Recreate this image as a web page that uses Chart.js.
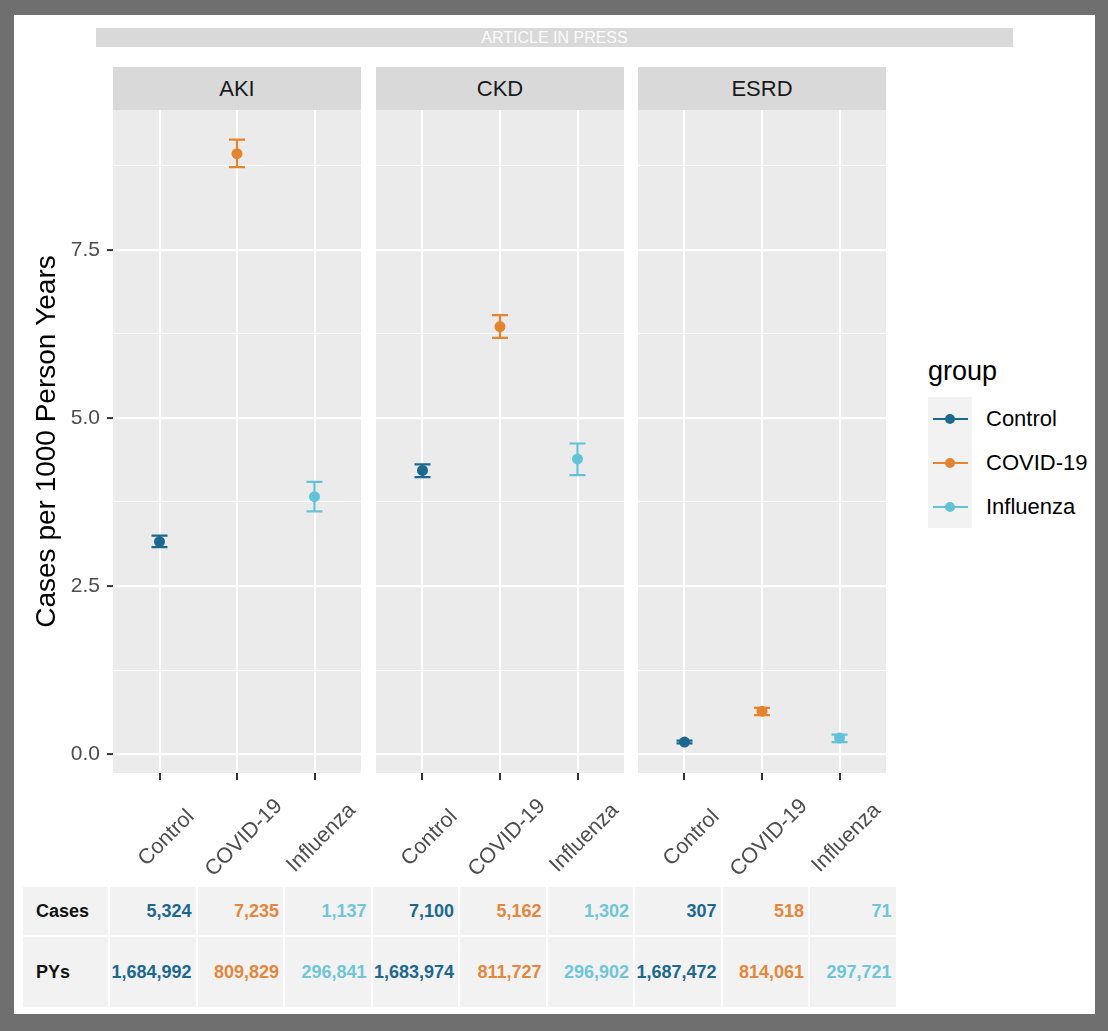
<!DOCTYPE html>
<html>
<head>
<meta charset="utf-8">
<script src="https://cdn.jsdelivr.net/npm/chart.js@4.4.0/dist/chart.umd.min.js"></script>
<style>
  html, body { margin:0; padding:0; background:#6f6f6f; }
  #page { position:relative; width:1108px; height:1031px; background:#6f6f6f; overflow:hidden;
          font-family:"Liberation Sans", Arial, sans-serif; }
  #sheet { position:absolute; left:14px; top:15px; width:1081px; height:999px; background:#ffffff; }
  #press { position:absolute; left:96px; top:28px; width:917px; height:19px; background:#d9d9d9;
           color:#fbfbfb; font-size:16px; line-height:19px; text-align:center; }
  .strip { position:absolute; top:67px; height:43px; width:248px; background:#d9d9d9; color:#1a1a1a;
           font-size:22px; line-height:43px; text-align:center; }
  canvas { position:absolute; top:110px; }
  #legendTitle { position:absolute; left:928px; top:355px; font-size:27px; color:#000; line-height:32px; }
  #legendKeys { position:absolute; left:928px; top:397px; width:44px; height:131px; background:#f2f2f2; }
  .lkLine { position:absolute; left:933px; width:35px; height:2px; }
  .lkDot { position:absolute; left:945px; width:10px; height:10px; border-radius:50%; }
  .lkText { position:absolute; left:986px; font-size:22px; line-height:26px; color:#000; }
  #table { position:absolute; left:23px; top:887px; display:grid;
           grid-template-columns: 85px repeat(9, 85.5px); grid-template-rows: 48px 70px; gap:2px; }
  .cell { background:#f2f2f2; font-weight:bold; font-size:18px; display:flex; align-items:center;
          justify-content:flex-end; padding-right:4px; }
  .cell.head { justify-content:flex-start; padding-left:13px; padding-right:0; color:#111; }
</style>
</head>
<body>
<div id="page">
  <div id="sheet"></div>
  <div id="press">ARTICLE IN PRESS</div>
  <div id="strips"></div>
  <canvas id="c0" width="361" height="775" style="left:0px;width:361px;height:775px"></canvas>
  <canvas id="c1" width="248" height="775" style="left:376px;width:248px;height:775px"></canvas>
  <canvas id="c2" width="248" height="775" style="left:638px;width:248px;height:775px"></canvas>
  <div id="legendTitle">group</div>
  <div id="legendKeys"></div>
  <div id="legendItems"></div>
  <div id="table"></div>
</div>
<script>
// ---------------- data ----------------
const facets = ['AKI', 'CKD', 'ESRD'];
const groups = ['Control', 'COVID-19', 'Influenza'];
const groupColors = ['#1b6890', '#e6832f', '#62c3d8'];
const tableColors = ['#1c6891', '#e4873c', '#70c6d9'];

const akiRate  = [3.16, 8.93, 3.83];
const akiLow   = [3.08, 8.73, 3.61];
const akiHigh  = [3.25, 9.14, 4.05];
const ckdRate  = [4.22, 6.36, 4.39];
const ckdLow   = [4.12, 6.19, 4.15];
const ckdHigh  = [4.31, 6.53, 4.62];
const esrdRate = [0.18, 0.64, 0.24];
const esrdLow  = [0.16, 0.58, 0.18];
const esrdHigh = [0.20, 0.69, 0.29];

const yMajorTicks = [0, 2.5, 5, 7.5];
const yMinorTicks = [1.25, 3.75, 6.25, 8.75];
const yTitle = 'Cases per 1000 Person Years';
const legendTitle = 'group';

const tableRowLabels = ['Cases', 'PYs'];
const casesRow = ['5,324', '7,235', '1,137', '7,100', '5,162', '1,302', '307', '518', '71'];
const pysRow   = ['1,684,992', '809,829', '296,841', '1,683,974', '811,727', '296,902', '1,687,472', '814,061', '297,721'];

// ---------------- layout helpers ----------------
const FONT = '"Liberation Sans", Arial, sans-serif';
const panelLefts = [113, 376, 638];

const strips = document.getElementById('strips');
facets.forEach((f, i) => {
  const d = document.createElement('div');
  d.className = 'strip';
  d.style.left = panelLefts[i] + 'px';
  d.textContent = f;
  strips.appendChild(d);
});

// legend
const keyTops = [419, 463, 507];
const li = document.getElementById('legendItems');
groups.forEach((g, i) => {
  const l = document.createElement('div'); l.className = 'lkLine';
  l.style.top = (keyTops[i] - 1) + 'px'; l.style.background = groupColors[i]; li.appendChild(l);
  const d = document.createElement('div'); d.className = 'lkDot';
  d.style.top = (keyTops[i] - 5) + 'px'; d.style.background = groupColors[i]; li.appendChild(d);
  const t = document.createElement('div'); t.className = 'lkText';
  t.style.top = (keyTops[i] - 13) + 'px'; t.textContent = g; li.appendChild(t);
});

// table
const tbl = document.getElementById('table');
[casesRow, pysRow].forEach((row, r) => {
  const h = document.createElement('div'); h.className = 'cell head'; h.textContent = tableRowLabels[r];
  tbl.appendChild(h);
  row.forEach((v, c) => {
    const d = document.createElement('div'); d.className = 'cell';
    d.style.color = tableColors[c % 3]; d.textContent = v; tbl.appendChild(d);
  });
});

// ---------------- plugins ----------------
const panelBg = {
  id: 'panelBg',
  beforeDraw(chart) {
    const a = chart.chartArea, ctx = chart.ctx;
    ctx.save(); ctx.fillStyle = '#ebebeb';
    ctx.fillRect(a.left, a.top, a.right - a.left, a.bottom - a.top);
    ctx.restore();
  }
};
const errorBars = {
  id: 'errorBars',
  beforeDatasetsDraw(chart, args, opts) {
    const xs = chart.scales.x, ys = chart.scales.y, ctx = chart.ctx;
    ctx.save();
    ctx.lineWidth = 2.2;
    opts.lows.forEach((lo, i) => {
      const x = xs.getPixelForValue(i);
      const y1 = ys.getPixelForValue(lo), y2 = ys.getPixelForValue(opts.highs[i]);
      ctx.strokeStyle = groupColors[i];
      ctx.beginPath();
      ctx.moveTo(x, y1); ctx.lineTo(x, y2);
      ctx.moveTo(x - 8, y1); ctx.lineTo(x + 8, y1);
      ctx.moveTo(x - 8, y2); ctx.lineTo(x + 8, y2);
      ctx.stroke();
    });
    ctx.restore();
  }
};
const xLabels = {
  id: 'xLabels',
  afterDraw(chart) {
    const s = chart.scales.x, ctx = chart.ctx, b = chart.chartArea.bottom;
    ctx.save();
    ctx.font = '21.5px ' + FONT;
    ctx.fillStyle = '#4d4d4d';
    ctx.textAlign = 'center';
    ctx.textBaseline = 'middle';
    s.ticks.forEach(t => {
      const x = s.getPixelForValue(t.value);
      ctx.save();
      ctx.translate(x + 7, b + 65);
      ctx.rotate(-Math.PI / 4);
      ctx.fillText(groups[t.value], 0, 0);
      ctx.restore();
    });
    ctx.restore();
  }
};

function noPad(s) { s.paddingTop = 0; s.paddingBottom = 0; s.paddingLeft = 0; s.paddingRight = 0; }

function makePanel(id, rates, lows, highs, showY) {
  const isMajor = v => yMajorTicks.some(m => Math.abs(m - v) < 1e-9);
  return new Chart(document.getElementById(id), {
    type: 'scatter',
    data: {
      datasets: [{
        data: groups.map((g, i) => ({ x: i, y: rates[i] })),
        pointRadius: 5.5,
        pointBackgroundColor: groupColors,
        pointBorderColor: groupColors,
        pointBorderWidth: 0,
        showLine: false
      }]
    },
    plugins: [panelBg, errorBars, xLabels],
    options: {
      responsive: false,
      animation: false,
      events: [],
      layout: { padding: 0, autoPadding: false },
      plugins: {
        legend: { display: false },
        tooltip: { enabled: false },
        errorBars: { lows: lows, highs: highs }
      },
      scales: {
        x: {
          type: 'linear', min: -0.6, max: 2.6,
          afterBuildTicks: s => { s.ticks = groups.map((g, i) => ({ value: i })); },
          afterFit: s => { s.height = 112; noPad(s); },
          ticks: { display: false },
          grid: { color: '#ffffff', lineWidth: 2, drawTicks: true, tickLength: 7, tickColor: '#333333', tickWidth: 2 },
          border: { display: false }
        },
        y: {
          type: 'linear', min: -0.28, max: 9.58,
          afterBuildTicks: s => {
            s.ticks = yMajorTicks.concat(yMinorTicks).sort((a, b) => a - b).map(v => ({ value: v }));
          },
          afterFit: s => { s.width = showY ? 113 : 0; noPad(s); },
          ticks: {
            display: showY,
            callback: v => isMajor(v) ? v.toFixed(1) : '',
            font: { size: 21, family: FONT },
            color: '#4d4d4d',
            padding: 7
          },
          grid: {
            color: '#ffffff',
            lineWidth: c => isMajor(c.tick.value) ? 2.2 : 1.1,
            drawTicks: showY,
            tickLength: 6,
            tickWidth: 2,
            tickColor: c => isMajor(c.tick.value) ? '#333333' : 'rgba(0,0,0,0)'
          },
          border: { display: false },
          title: {
            display: showY, text: yTitle,
            font: { size: 28, family: FONT }, color: '#000000',
            padding: { top: 30, bottom: 0 }
          }
        }
      }
    }
  });
}

makePanel('c0', akiRate, akiLow, akiHigh, true);
makePanel('c1', ckdRate, ckdLow, ckdHigh, false);
makePanel('c2', esrdRate, esrdLow, esrdHigh, false);
document.getElementById('legendTitle').textContent = legendTitle;
</script>
</body>
</html>
